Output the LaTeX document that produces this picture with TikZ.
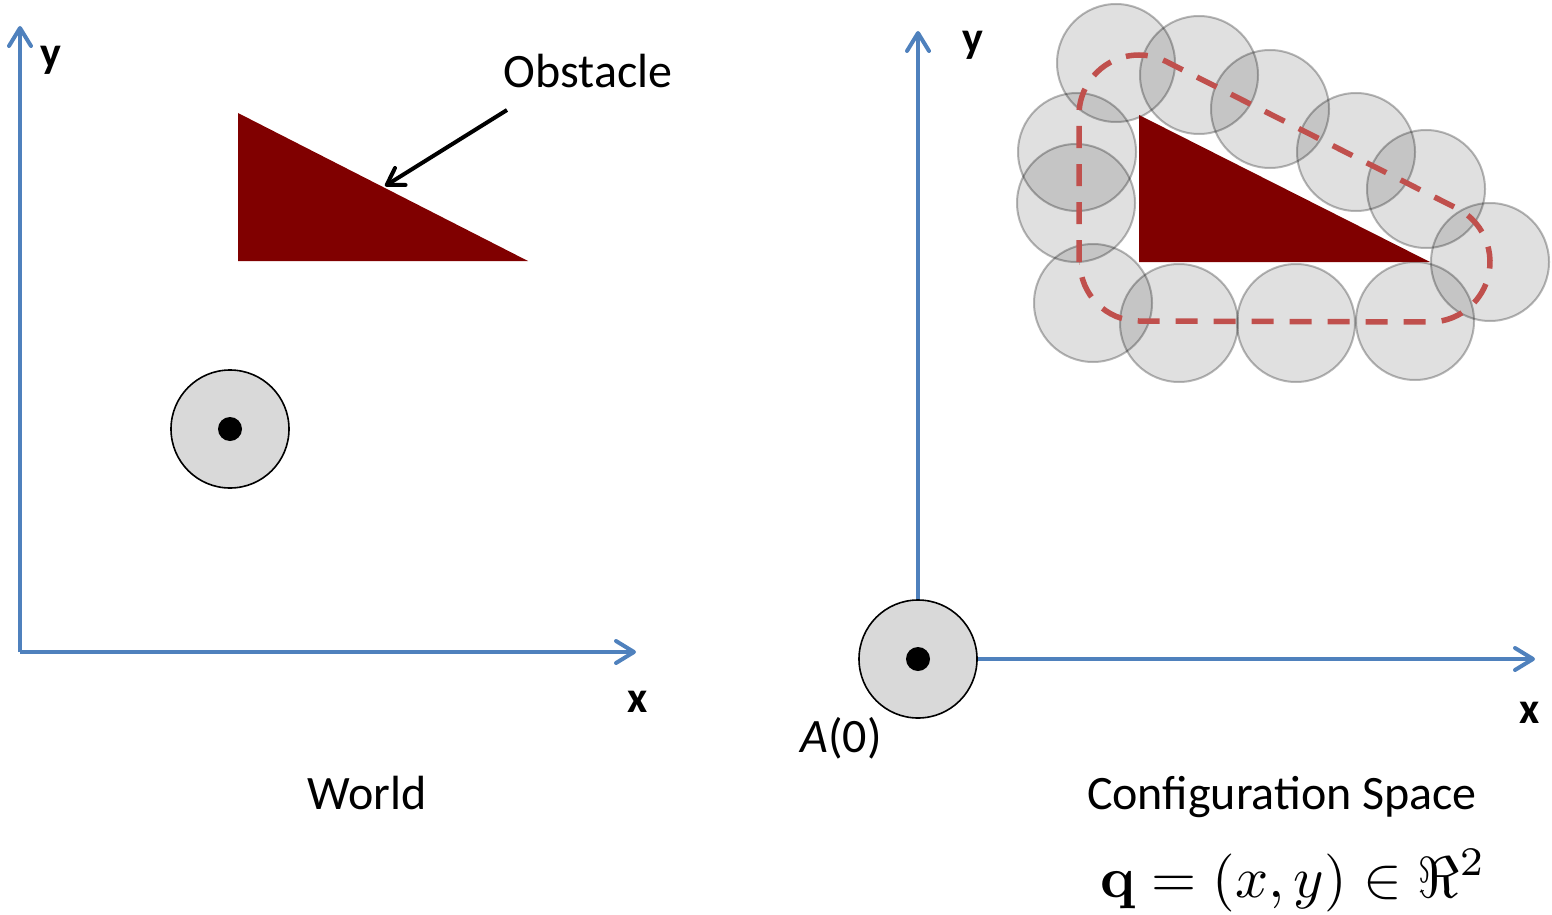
\documentclass[tikz,border=0pt]{standalone}
\usepackage{amsmath,amssymb}
\usepackage[no-math]{fontspec}
\setmainfont{Carlito}
\usetikzlibrary{arrows.meta}
\definecolor{axisblue}{RGB}{79,129,189}
\definecolor{obstred}{RGB}{128,0,0}
\definecolor{dashred}{RGB}{192,80,77}
\tikzset{
  axis/.style={draw=axisblue, line width=4pt, -{Straight Barb[length=18pt,width=22pt,round]}},
  pointer/.style={draw=black, line width=4pt, -{Straight Barb[length=16pt,width=20pt,round]}},
  obst/.style={fill=obstred},
  robot/.style={circle, draw=black, line width=1.6pt, fill=black!15, minimum size=118pt, inner sep=0pt},
  dot/.style={circle, fill=black, minimum size=24pt, inner sep=0pt},
  ghost/.style={fill=black, fill opacity=0.12, draw=black, draw opacity=0.28, line width=2pt},
  cspace/.style={draw=dashred, line width=5.5pt, dash pattern=on 22pt off 16pt},
  big/.style={font=\fontsize{48}{57}\selectfont, inner sep=0pt, anchor=base},
  axlabel/.style={font=\bfseries\fontsize{44}{52}\selectfont, inner sep=0pt, anchor=base},
}
\begin{document}
\begin{tikzpicture}[x=1pt,y=-1pt]
\useasboundingbox (0,0) rectangle (1552,915);

% ---------- World ----------
\coordinate (o1) at (20,652);
\coordinate (y1) at (20,26);
\coordinate (x1) at (636,652);
\draw[axis] (o1) -- (y1);
\draw[axis] (o1) -- (x1);
\node[axlabel] (ly1) at (51,68) {y};
\node[axlabel] (lx1) at (638,712) {x};

\fill[obst] (238,113) -- (238,261) -- (528,261) -- cycle;
\coordinate (hit) at (385,186);
\node[big] (obstlabel) at (588,88) {Obstacle};
\coordinate (tail) at (507,110);
\draw[pointer] (tail) -- (hit);

\node[robot] (r1) at (230,429) {};
\node[dot] (d1) at (r1.center) {};

\node[big] (world) at (367,809) {World};

% ---------- Configuration space ----------
\coordinate (o2) at (918,659);
\coordinate (y2) at (918,31);
\coordinate (x2) at (1535,659);
\draw[axis] (o2) -- (y2);
\draw[axis] (o2) -- (x2);
\node[axlabel] (ly2) at (973,53) {y};
\node[axlabel] (lx2) at (1530,723) {x};

\node[robot] (r2) at (o2) {};
\node[dot] (d2) at (r2.center) {};
\node[big] (a0) at (841,752) {\textit{A}(0)};

% swept robot positions
\foreach \p in {(1116,63),(1199,75),(1270,109),(1356,152),(1426,189),(1490,262),
                (1077,152),(1076,203),(1093,303),(1179,323),(1296,323),(1415,321)}
  \path[ghost] \p circle[radius=59pt];

\fill[obst] (1139,115) -- (1139,262) -- (1430,262) -- cycle;

\draw[cspace] (1079,262) -- (1079,115)
  arc[start angle=180, end angle=63.2, radius=60pt] -- ++(291,147)
  arc[start angle=63.2, end angle=-90, radius=60pt] -- (1139,321)
  arc[start angle=270, end angle=180, radius=59pt] -- cycle;

\node[big] (cs) at (1282,809) {Configuration Space};
\node[inner sep=0pt, anchor=base] (eq) at (1293,897)
  {\scalebox{5.8}{$\mathbf{q}=(x,y)\in\Re^{2}$}};
\end{tikzpicture}
\end{document}
